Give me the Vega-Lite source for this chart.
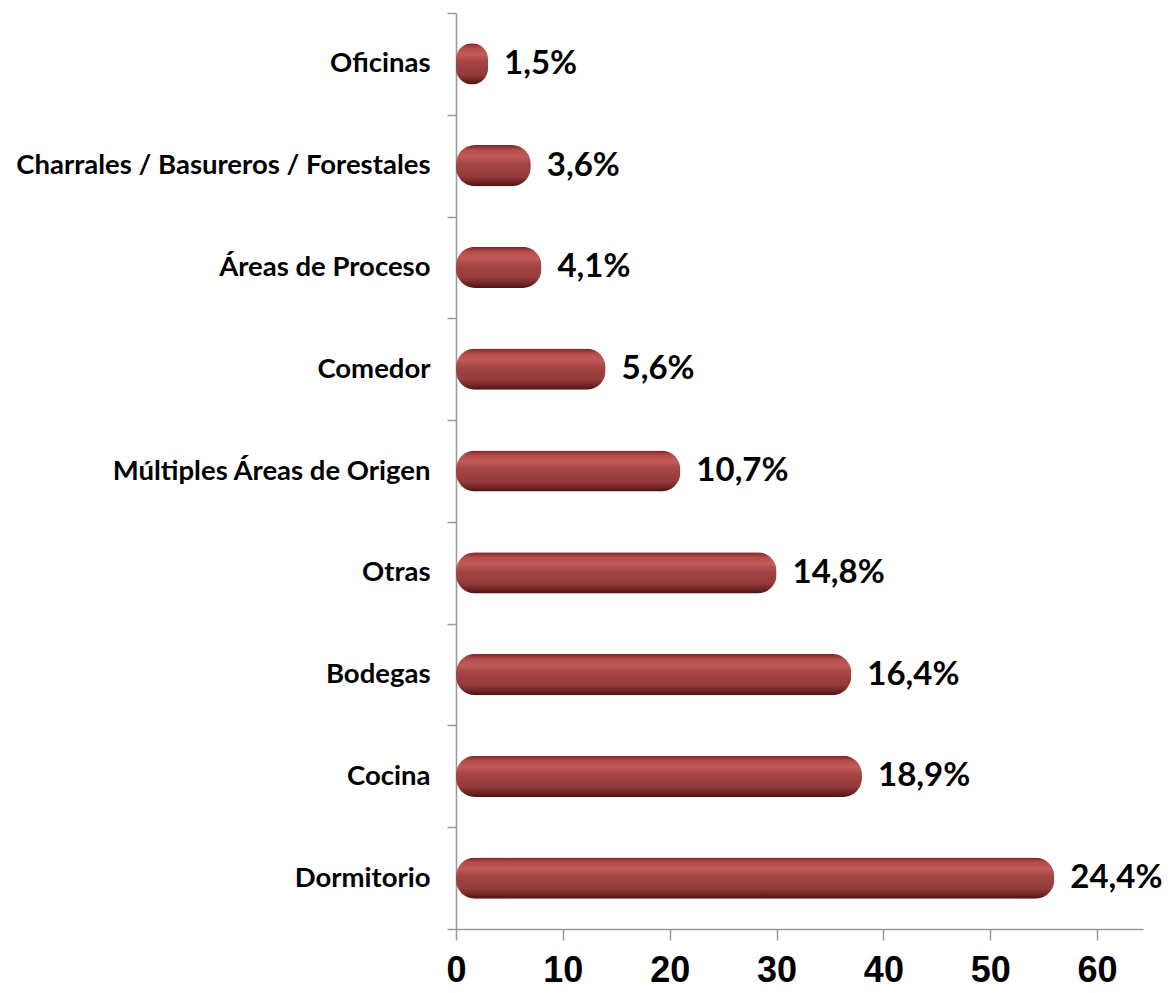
{
  "$schema": "https://vega.github.io/schema/vega-lite/v6.json",
  "autosize": {"type": "none"},
  "padding": {"left": 456, "top": 13, "right": 28, "bottom": 64},
  "width": 687,
  "height": 916,
  "background": "white",
  "config": {"view": {"stroke": null}},
  "data": {
    "values": [
      {"area": "Oficinas", "valor": 3, "pct": "1,5%"},
      {"area": "Charrales / Basureros / Forestales", "valor": 7, "pct": "3,6%"},
      {"area": "Áreas de Proceso", "valor": 8, "pct": "4,1%"},
      {"area": "Comedor", "valor": 14, "pct": "5,6%"},
      {"area": "Múltiples Áreas de Origen", "valor": 21, "pct": "10,7%"},
      {"area": "Otras", "valor": 30, "pct": "14,8%"},
      {"area": "Bodegas", "valor": 37, "pct": "16,4%"},
      {"area": "Cocina", "valor": 38, "pct": "18,9%"},
      {"area": "Dormitorio", "valor": 56, "pct": "24,4%"}
    ]
  },
  "encoding": {
    "y": {
      "field": "area",
      "type": "nominal",
      "sort": null,
      "scale": {"paddingInner": 0, "paddingOuter": 0},
      "axis": {
        "title": null,
        "tickBand": "extent",
        "domainColor": "#999999",
        "domainWidth": 1.5,
        "tickColor": "#999999",
        "tickWidth": 1.5,
        "tickSize": 9,
        "labelPadding": 17,
        "labelFont": "Lato",
        "labelFontWeight": "bold",
        "labelFontSize": 27.5,
        "labelColor": "#000000",
        "labelLimit": 600
      }
    }
  },
  "layer": [
    {
      "mark": {
        "type": "bar",
        "height": {"band": 0.405},
        "cornerRadius": 19,
        "color": {
          "gradient": "linear",
          "x1": 0, "y1": 0, "x2": 0, "y2": 1,
          "stops": [
            {"offset": 0, "color": "#7a2626"},
            {"offset": 0.12, "color": "#b44c4a"},
            {"offset": 0.28, "color": "#c25a57"},
            {"offset": 0.45, "color": "#a54544"},
            {"offset": 0.75, "color": "#943b3b"},
            {"offset": 0.92, "color": "#6a2020"},
            {"offset": 1, "color": "#4a1212"}
          ]
        }
      },
      "encoding": {
        "x": {
          "field": "valor",
          "type": "quantitative",
          "scale": {"domain": [0, 64.3], "nice": false},
          "axis": {
            "title": null,
            "values": [0, 10, 20, 30, 40, 50, 60],
            "grid": false,
            "domainColor": "#999999",
            "domainWidth": 1.5,
            "tickColor": "#999999",
            "tickWidth": 1.5,
            "tickSize": 11,
            "labelPadding": 13,
            "labelFont": "Liberation Sans",
            "labelFontWeight": "bold",
            "labelFontSize": 36,
            "labelColor": "#000000",
            "labelFlush": false
          }
        }
      }
    },
    {
      "mark": {
        "type": "text",
        "align": "left",
        "baseline": "middle",
        "dx": 16,
        "font": "Lato",
        "fontWeight": "bold",
        "fontSize": 33,
        "color": "#000000"
      },
      "encoding": {
        "x": {"field": "valor", "type": "quantitative"},
        "text": {"field": "pct"}
      }
    }
  ]
}
